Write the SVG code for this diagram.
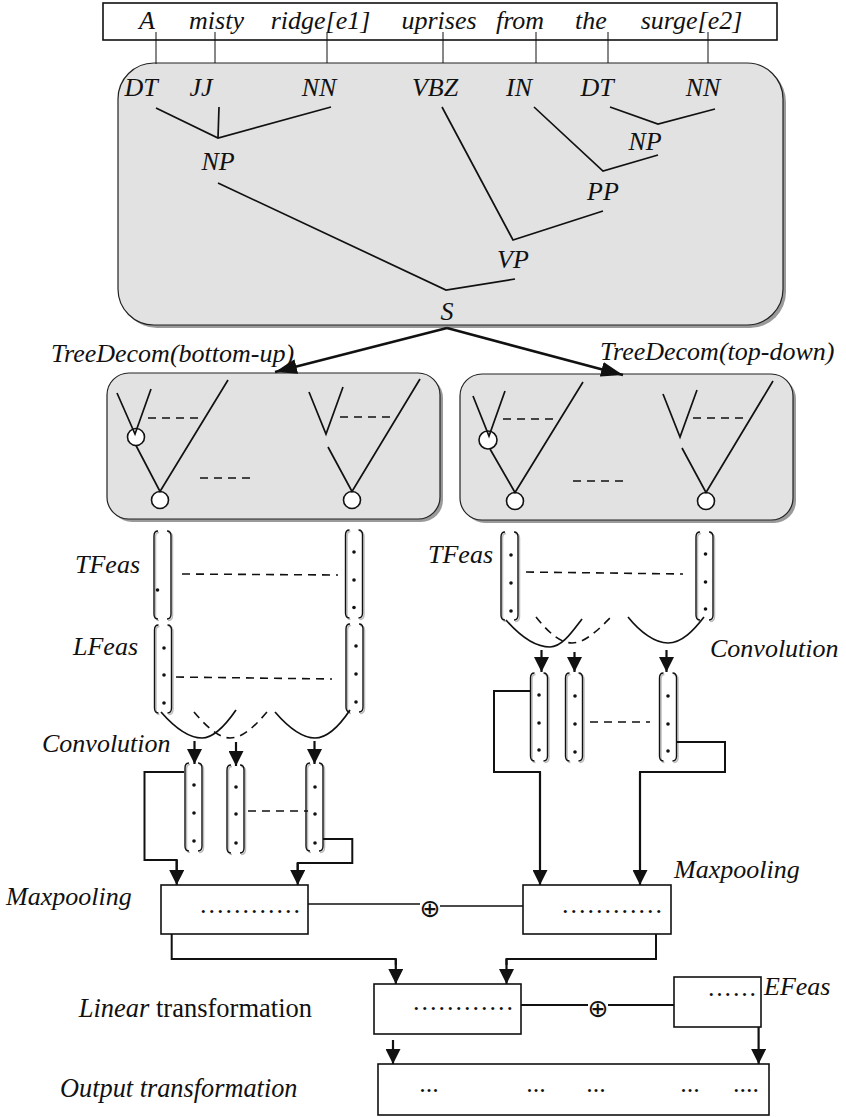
<svg xmlns="http://www.w3.org/2000/svg" width="846" height="1117" viewBox="0 0 846 1117">
<defs>
<style>
text { font-family: "Liberation Serif", "Times New Roman", serif; font-size: 26px; fill: #111; }
.it { font-style: italic; }
.mid { text-anchor: middle; }
.end { text-anchor: end; }
.ln { stroke: #111; fill: none; stroke-width: 1.7; }
.thin { stroke: #111; fill: none; stroke-width: 1; }
.sum { stroke: #111; fill: none; stroke-width: 1.6; }
.dash { stroke: #111; fill: none; stroke-width: 1.6; stroke-dasharray: 8 6; }
.box { fill: #fff; stroke: #111; stroke-width: 1.6; }
.gbox { fill: #e2e2e2; stroke: #222; stroke-width: 1.2; }
.shadow { fill: #9a9a9a; }
.circ { fill: #fff; stroke: #111; stroke-width: 1.6; }
.dot { fill: #111; }
.conn { stroke: #111; fill: none; stroke-width: 2; }
.arr { stroke: #111; fill: none; stroke-width: 2.2; marker-end: url(#ah); }
.big { stroke: #111; fill: none; stroke-width: 2.6; marker-end: url(#ahBig); }
.op { font-family: "DejaVu Sans", sans-serif; font-size: 25px; text-anchor: middle; }
</style>
<marker id="ah" viewBox="0 0 10 10" refX="10" refY="5" markerWidth="15" markerHeight="15" markerUnits="userSpaceOnUse" orient="auto"><path d="M0,0 L10,5 L0,10 z" fill="#111"/></marker>
<marker id="ahBig" viewBox="0 0 10 10" refX="10" refY="5" markerWidth="22" markerHeight="15" markerUnits="userSpaceOnUse" orient="auto" preserveAspectRatio="none"><path d="M0,0 L10,5 L0,10 z" fill="#111"/></marker>
<g id="colshape">
<path d="M6,1.5 Q2.5,1.5 2.5,6.5 L2.5,84.5 Q2.5,89.5 6,89.5 M15,1.5 Q19.5,1.5 19.5,6.5 L19.5,84.5 Q19.5,89.5 15,89.5" stroke="#bdbdbd" stroke-width="1.5" fill="none"/>
<path d="M5,0 Q1,0 1,5 L1,83 Q1,88 5,88 M14,0 Q18,0 18,5 L18,83 Q18,88 14,88" stroke="#111" stroke-width="1.4" fill="none"/>
</g>
</defs>

<rect width="846" height="1117" fill="#fff"/>

<g id="sentence">
<rect class="box" x="103" y="3" width="674" height="37" stroke-width="1.3"/>
<text class="it mid" x="147" y="29">A</text>
<text class="it mid" x="216.5" y="29">misty</text>
<text class="it mid" x="320.5" y="29">ridge[e1]</text>
<text class="it mid" x="439" y="29">uprises</text>
<text class="it mid" x="520" y="29">from</text>
<text class="it mid" x="591" y="29">the</text>
<text class="it mid" x="691.5" y="29">surge[e2]</text>
</g>

<g id="parse-tree">
<rect class="shadow" x="121" y="66" width="665" height="262" rx="36"/>
<rect class="gbox" x="118" y="63" width="665" height="262" rx="36"/>
<text class="it mid" x="141" y="96">DT</text>
<text class="it mid" x="201" y="96">JJ</text>
<text class="it mid" x="319" y="96">NN</text>
<text class="it mid" x="435" y="96">VBZ</text>
<text class="it mid" x="519" y="96">IN</text>
<text class="it mid" x="597" y="96">DT</text>
<text class="it mid" x="703" y="96">NN</text>
<text class="it mid" x="218" y="170">NP</text>
<text class="it mid" x="645" y="150">NP</text>
<text class="it mid" x="603" y="200">PP</text>
<text class="it mid" x="513" y="268">VP</text>
<text class="it mid" x="447" y="320">S</text>
<path class="ln" d="M156,108 L218,138 L331,107 M219,107 L218,138"/>
<path class="ln" d="M218,183 L446,290 L515,279"/>
<path class="ln" d="M442,107 L513,240 L603,211"/>
<path class="ln" d="M534,107 L603,171 L658,155"/>
<path class="ln" d="M610,107 L658,124 L715,109"/>
</g>

<g id="ticks">
<path class="thin" d="M156,32 V64 M215,32 V63 M327,32 V63 M443,32 V63 M536,32 V63 M608,32 V63 M708,32 V63"/>
</g>

<g id="decom-bottom-up">
<rect class="shadow" x="110" y="376" width="333" height="146" rx="22"/>
<rect class="gbox" x="107" y="373" width="333" height="146" rx="22"/>
<circle class="circ" cx="136" cy="437" r="8.5"/>
<circle class="circ" cx="160" cy="500" r="8.5"/>
<circle class="circ" cx="352" cy="500" r="8.5"/>
<path class="ln" d="M117,393 L135,434 L151,389 M136,445.5 L160,491.5 L228,380"/>
<path class="ln" d="M309,392 L326,434 L343,387 M328,447 L352,491.5 L420,379"/>
<path class="dash" d="M148,418 H198 M200,478 H252 M340,417 H390"/>
</g>

<g id="decom-top-down">
<rect class="shadow" x="463" y="377" width="333" height="146" rx="22"/>
<rect class="gbox" x="460" y="374" width="333" height="146" rx="22"/>
<circle class="circ" cx="488" cy="440" r="9"/>
<circle class="circ" cx="515" cy="501" r="8.5"/>
<circle class="circ" cx="706" cy="501" r="8.5"/>
<path class="ln" d="M473,396 L489,436 L505,391 M490,449 L515,492.5 L583,382"/>
<path class="ln" d="M663,394 L680,437 L697,390 M682,448 L706,492.5 L773,381"/>
<path class="dash" d="M503,419 H553 M573,481 H623 M693,418 H743"/>
</g>

<g id="left-features">
<use href="#colshape" x="153" y="531"/>
<circle class="dot" cx="157.5" cy="590" r="1.8"/>
<use href="#colshape" x="344.5" y="530"/>
<circle class="dot" cx="354" cy="552" r="1.8"/><circle class="dot" cx="354" cy="580" r="1.8"/><circle class="dot" cx="354" cy="607.5" r="1.8"/>
<use href="#colshape" x="153.5" y="625"/>
<circle class="dot" cx="164" cy="648" r="1.8"/><circle class="dot" cx="164" cy="675" r="1.8"/><circle class="dot" cx="164" cy="703" r="1.8"/>
<use href="#colshape" x="345" y="624"/>
<circle class="dot" cx="356" cy="646" r="1.8"/><circle class="dot" cx="356" cy="674" r="1.8"/><circle class="dot" cx="356" cy="702" r="1.8"/>
<path class="dash" d="M182,574 L338,575 M176,677 L332,679"/>
<path class="ln" d="M161,712 C175,728 189,738 202,738 C214,738 225,726 236,710 M275,712 C288,727 302,738 315,738 C328,738 340,725 350,710"/>
<path class="dash" d="M194,712 C205,725 218,738 230,738 C243,738 255,726 267,712"/>
</g>

<g id="left-conv">
<use href="#colshape" x="184" y="763"/>
<circle class="dot" cx="194" cy="785" r="1.8"/><circle class="dot" cx="194" cy="813" r="1.8"/><circle class="dot" cx="194" cy="841" r="1.8"/>
<use href="#colshape" x="226" y="765"/>
<circle class="dot" cx="236" cy="787" r="1.8"/><circle class="dot" cx="236" cy="814" r="1.8"/><circle class="dot" cx="236" cy="843" r="1.8"/>
<use href="#colshape" x="305" y="763"/>
<circle class="dot" cx="315" cy="787" r="1.8"/><circle class="dot" cx="315" cy="814" r="1.8"/><circle class="dot" cx="315" cy="843" r="1.8"/>
<path class="dash" d="M248,811 H308"/>
</g>

<g id="right-features">
<use href="#colshape" x="500" y="532"/>
<circle class="dot" cx="511" cy="555" r="1.8"/><circle class="dot" cx="511" cy="583" r="1.8"/><circle class="dot" cx="511" cy="611" r="1.8"/>
<use href="#colshape" x="695" y="532"/>
<circle class="dot" cx="705.5" cy="554" r="1.8"/><circle class="dot" cx="705.5" cy="582" r="1.8"/><circle class="dot" cx="705.5" cy="609" r="1.8"/>
<path class="dash" d="M526,572 L683,574"/>
<path class="ln" d="M506,620 C520,636 535,647 550,647 C562,647 572,632 582,619 M628,617 C640,632 655,643 668,643 C682,643 694,630 704,617"/>
<path class="dash" d="M536,617 C548,632 560,643 572,643 C585,643 598,630 610,618"/>
</g>

<g id="right-conv">
<use href="#colshape" x="529.5" y="673"/>
<circle class="dot" cx="539" cy="695" r="1.8"/><circle class="dot" cx="539" cy="723" r="1.8"/><circle class="dot" cx="539" cy="750" r="1.8"/>
<use href="#colshape" x="564.5" y="673"/>
<circle class="dot" cx="575" cy="696" r="1.8"/><circle class="dot" cx="575" cy="724" r="1.8"/><circle class="dot" cx="575" cy="752" r="1.8"/>
<use href="#colshape" x="658.5" y="673"/>
<circle class="dot" cx="668" cy="696" r="1.8"/><circle class="dot" cx="668" cy="724" r="1.8"/><circle class="dot" cx="668" cy="751" r="1.8"/>
<path class="dash" d="M590,722 H650"/>
</g>

<g id="maxpool-left">
<rect class="box" x="161" y="885" width="147" height="49"/>
<text x="250" y="913" class="mid" textLength="100" lengthAdjust="spacing">............</text>
</g>
<g id="maxpool-right">
<rect class="box" x="523" y="885" width="148" height="49"/>
<text x="612" y="913" class="mid" textLength="100" lengthAdjust="spacing">............</text>
</g>
<g id="linear-box">
<rect class="box" x="374" y="984" width="147" height="50"/>
<text x="463" y="1010" class="mid" textLength="100" lengthAdjust="spacing">............</text>
</g>
<g id="efeas-box">
<rect class="box" x="674" y="977" width="87" height="50"/>
<text x="732" y="996" class="mid" textLength="48" lengthAdjust="spacing">......</text>
</g>
<g id="output-box">
<rect class="box" x="378" y="1064" width="391" height="51"/>
<text x="429" y="1092" class="mid">...</text>
<text x="536" y="1092" class="mid">...</text>
<text x="596" y="1092" class="mid">...</text>
<text x="690" y="1092" class="mid">...</text>
<text x="746" y="1092" class="mid">....</text>
</g>

<g id="plus-ops">
<text class="op" x="430" y="917">⊕</text>
<text class="op" x="598" y="1017">⊕</text>
</g>

<g id="labels">
<text class="it" x="51" y="362">TreeDecom(bottom-up)</text>
<text class="it" x="600" y="360">TreeDecom(top-down)</text>
<text class="it" x="75" y="573">TFeas</text>
<text class="it" x="73" y="655">LFeas</text>
<text class="it" x="42" y="752">Convolution</text>
<text class="it" x="428" y="563">TFeas</text>
<text class="it" x="710" y="657">Convolution</text>
<text class="it" x="6" y="905">Maxpooling</text>
<text class="it" x="674" y="878">Maxpooling</text>
<text class="it" x="764" y="995">EFeas</text>
<text x="312" y="1017" class="end" style="font-size:26.5px"><tspan class="it">Linear</tspan> transformation</text>
<text class="it end" x="297.5" y="1097" style="font-size:26.3px">Output transformation</text>
</g>

<g id="connectors">
<path class="big" d="M447,328 L275,372"/>
<path class="big" d="M447,328 L623,375"/>
<path class="arr" d="M194.5,741 V764"/>
<path class="arr" d="M236,742 V766"/>
<path class="arr" d="M314.5,741 V764"/>
<path class="arr" d="M541.5,650 V672"/>
<path class="arr" d="M574.5,652 V672"/>
<path class="arr" d="M666.5,650 V672"/>
<path class="conn" d="M184,772 H144.5 V860 H176.7 V870"/>
<path class="arr" d="M176.7,860 V885"/>
<path class="conn" d="M323,839 H352.3 V863 H297.7 V870"/>
<path class="arr" d="M297.7,863 V885"/>
<path class="conn" d="M530,691 H494 V772 H540 V780"/>
<path class="arr" d="M540,772 V885"/>
<path class="conn" d="M677,742 H725 V772 H640 V780"/>
<path class="arr" d="M640,772 V885"/>
<path class="sum" d="M308,904 H420 M440,906 H523"/>
<path class="conn" d="M171.7,934 V959 H395.8 V965"/>
<path class="arr" d="M395.8,959 V984"/>
<path class="conn" d="M656,934 V959 H506.5 V965"/>
<path class="arr" d="M506.5,959 V984"/>
<path class="conn" d="M521,1005 H588 M608,1005 H674"/>
<path class="arr" d="M393,1040 V1064"/>
<path class="arr" d="M758.6,1027 V1064"/>
</g>
</svg>
